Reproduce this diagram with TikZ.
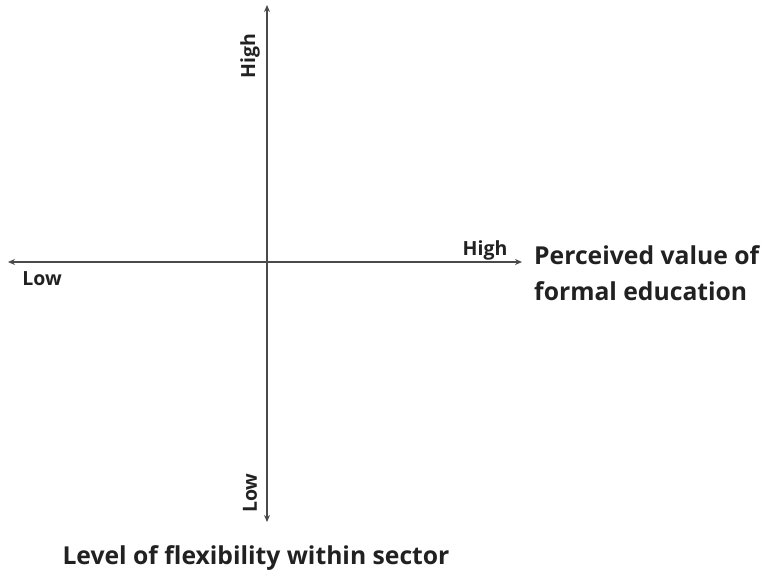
\documentclass[tikz,border=0pt]{standalone}
\usepackage{fontspec}
\setmainfont{Open Sans}
\usetikzlibrary{arrows.meta}
\definecolor{axisgrey}{rgb}{0.29, 0.29, 0.29}
\definecolor{textgrey}{rgb}{0.13, 0.13, 0.13}

\begin{document}
\begin{tikzpicture}[x=1pt, y=-1pt]
        \useasboundingbox (0, 0) rectangle (766, 574);

        \coordinate (Top) at (267, 5);
        \coordinate (Bottom) at (267, 522);
        \coordinate (Left) at (8, 262);
        \coordinate (Right) at (522, 262);

        \draw [line width=1.6pt, color=axisgrey, {Stealth[length=7pt, width=6pt]}-{Stealth[length=7pt, width=6pt]}] (Bottom) -- (Top);
        \draw [line width=1.6pt, color=axisgrey, {Stealth[length=7pt, width=6pt]}-{Stealth[length=7pt, width=6pt]}] (Left) -- (Right);

        \node [rotate=90, inner sep=0pt, color=textgrey, font=\fontsize{19.5}{23}\selectfont\bfseries] (VHigh) at (250, 56) {High};
        \node [rotate=90, inner sep=0pt, color=textgrey, font=\fontsize{19.5}{23}\selectfont\bfseries] (VLow) at (250, 493) {Low};
        \node [inner sep=0pt, color=textgrey, font=\fontsize{19.5}{23}\selectfont\bfseries] (HHigh) at (485, 250) {High};
        \node [inner sep=0pt, color=textgrey, font=\fontsize{19.5}{23}\selectfont\bfseries] (HLow) at (42, 279) {Low};

        \node [anchor=west, align=left, inner sep=0pt, color=textgrey, font=\fontsize{24.7}{36}\selectfont\bfseries] (XTitle) at (534, 273) {Perceived value of\\formal education};
        \node [inner sep=0pt, color=textgrey, font=\fontsize{24.7}{36}\selectfont\bfseries] (YTitle) at (256, 558) {Level of flexibility within sector};
    \end{tikzpicture}
\end{document}
